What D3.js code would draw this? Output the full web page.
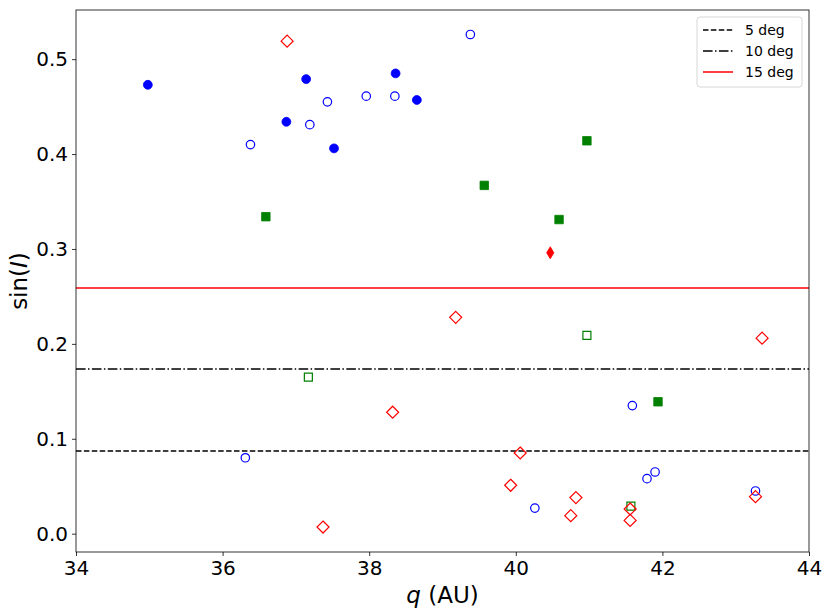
<!DOCTYPE html>
<html lang="en">
<head>
<meta charset="UTF-8">
<title>sin(I) vs q</title>
<script src="https://d3js.org/d3.v7.min.js"></script>
<style>
  body { margin: 0; background: #fff; }
  text { font-family: "DejaVu Sans", sans-serif; }
</style>
</head>
<body>
<div id="chart"></div>
<script>
// data: [q (AU), sin(I)]
const blueFilled = [[34.98, 0.473], [37.14, 0.479], [36.87, 0.434], [37.52, 0.406], [38.36, 0.485], [38.65, 0.457]];
const blueOpen = [[36.38, 0.410], [37.19, 0.431], [37.43, 0.455], [37.96, 0.461], [38.35, 0.461], [39.38, 0.526],
                  [36.31, 0.080], [40.26, 0.027], [41.59, 0.135], [41.79, 0.058], [41.90, 0.065], [43.27, 0.045]];
const greenFilled = [[36.59, 0.334], [40.97, 0.414], [39.57, 0.367], [40.59, 0.331], [41.94, 0.139]];
const greenOpen = [[37.17, 0.165], [40.97, 0.209], [41.57, 0.029]];
const redThin = [[40.47, 0.296]];
const redOpen = [[36.88, 0.519], [37.37, 0.007], [38.32, 0.128], [39.18, 0.228], [43.36, 0.206], [40.06, 0.085],
                 [39.93, 0.051], [40.82, 0.038], [40.75, 0.019], [41.56, 0.026], [41.56, 0.014], [43.27, 0.039]];

const limitDeg = [5, 10, 15];
const limitLabels = ["5 deg", "10 deg", "15 deg"];
const xTicks = [34, 36, 38, 40, 42, 44];
const yTicks = [0.0, 0.1, 0.2, 0.3, 0.4, 0.5];

const W = 830, H = 616;
const margin = {top: 10, right: 21, bottom: 64, left: 76};
const width = W - margin.left - margin.right;
const height = H - margin.top - margin.bottom;

const svg = d3.select("#chart").append("svg")
    .attr("width", W).attr("height", H);
const g = svg.append("g")
    .attr("transform", `translate(${margin.left},${margin.top})`);

const x = d3.scaleLinear().domain([34, 44]).range([0, width]);
const y = d3.scaleLinear().domain([-0.0193, 0.5518]).range([height, 0]);

// horizontal inclination limits
const lineStyles = [
  {stroke: "#000", dash: "5.5,2.4"},
  {stroke: "#000", dash: "9.6,2.4,1.5,2.4"},
  {stroke: "#ff0000", dash: null}
];
limitDeg.forEach((deg, i) => {
  g.append("line")
    .attr("x1", 0).attr("x2", width)
    .attr("y1", y(Math.sin(deg * Math.PI / 180)))
    .attr("y2", y(Math.sin(deg * Math.PI / 180)))
    .attr("stroke", lineStyles[i].stroke)
    .attr("stroke-width", 1.5)
    .attr("stroke-dasharray", lineStyles[i].dash);
});

// custom marker shapes
const diamond = {draw(ctx, s) { const r = Math.sqrt(s) / 2; ctx.moveTo(0, -r); ctx.lineTo(r, 0); ctx.lineTo(0, r); ctx.lineTo(-r, 0); ctx.closePath(); }};
const thinDiamond = {draw(ctx, s) { const h = Math.sqrt(s) / 2, w = h * 0.6; ctx.moveTo(0, -h); ctx.lineTo(w, 0); ctx.lineTo(0, h); ctx.lineTo(-w, 0); ctx.closePath(); }};

function plot(data, type, size, color, filled) {
  g.append("g").selectAll("path")
    .data(data)
    .join("path")
    .attr("transform", d => `translate(${x(d[0])},${y(d[1])})`)
    .attr("d", d3.symbol().type(type).size(size))
    .attr("fill", filled ? color : "none")
    .attr("stroke", color)
    .attr("stroke-width", filled ? 0.8 : 1.2);
}

plot(blueOpen, d3.symbolCircle, 56, "#0000ff", false);
plot(blueFilled, d3.symbolCircle, 62, "#0000ff", true);
plot(greenOpen, d3.symbolSquare, 64, "#008000", false);
plot(greenFilled, d3.symbolSquare, 72, "#008000", true);
plot(redOpen, diamond, 144, "#ff0000", false);
plot(redThin, thinDiamond, 144, "#ff0000", true);

// axes
const xAxis = g.append("g")
    .attr("transform", `translate(0,${height})`)
    .call(d3.axisBottom(x).tickValues(xTicks).tickFormat(d3.format("d")).tickSize(4).tickPadding(5));
const yAxis = g.append("g")
    .call(d3.axisLeft(y).tickValues(yTicks).tickFormat(d3.format(".1f")).tickSize(4).tickPadding(4));
[xAxis, yAxis].forEach(a => {
  a.selectAll("text").attr("font-size", 20).attr("fill", "#000")
    .attr("font-family", "DejaVu Sans, sans-serif");
  a.selectAll(".tick line").attr("stroke", "#000").attr("stroke-width", 0.8);
  a.select(".domain").remove();
});

// frame
g.append("rect")
  .attr("width", width).attr("height", height)
  .attr("fill", "none").attr("stroke", "#000").attr("stroke-width", 0.8);

// axis labels
svg.append("text")
  .attr("x", margin.left + width / 2).attr("y", 603)
  .attr("text-anchor", "middle").attr("font-size", 23)
  .html('<tspan font-style="italic">q</tspan> (AU)');
svg.append("text")
  .attr("transform", `translate(27,${margin.top + height / 2}) rotate(-90)`)
  .attr("text-anchor", "middle").attr("font-size", 23)
  .html('sin(<tspan font-style="italic">I</tspan>)');

// legend
const lg = svg.append("g").attr("transform", "translate(697,17)");
lg.append("rect")
  .attr("width", 105).attr("height", 70).attr("rx", 3)
  .attr("fill", "#fff").attr("fill-opacity", 0.8)
  .attr("stroke", "#cccccc").attr("stroke-width", 0.8);
limitLabels.forEach((lab, i) => {
  const yy = 13 + i * 21;
  lg.append("line")
    .attr("x1", 6).attr("x2", 36).attr("y1", yy).attr("y2", yy)
    .attr("stroke", lineStyles[i].stroke).attr("stroke-width", 1.5)
    .attr("stroke-dasharray", lineStyles[i].dash);
  lg.append("text")
    .attr("x", 48).attr("y", yy + 5)
    .attr("font-size", 14).text(lab);
});
</script>
</body>
</html>
